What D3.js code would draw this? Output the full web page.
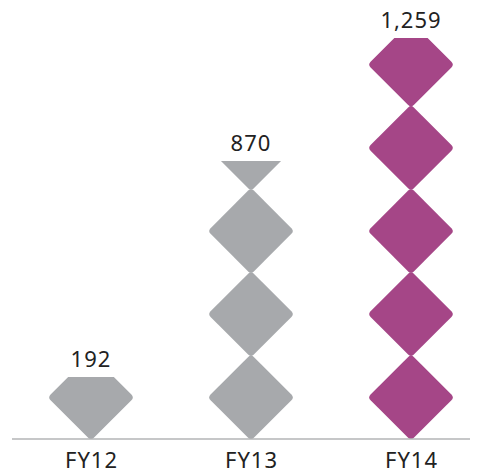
<!DOCTYPE html>
<html>
  <head>
    <meta charset="utf-8">
    <title>FY totals</title>
    <script src="https://cdnjs.cloudflare.com/ajax/libs/d3/7.8.5/d3.min.js" charset="utf-8"></script>
    <style>
      html, body { margin: 0; padding: 0; background: #fff; }
      svg { display: block; }
      text { font-family: "Noto Sans", sans-serif; font-size: 22px; letter-spacing: 1px; fill: #222; }
    </style>
  </head>
  <body>
    <div id="chart"></div>
    <script>

var years = ["FY12", "FY13", "FY14"];
var totals = [192, 870, 1259];
var labels = ["192", "870", "1,259"];
// how many diamonds each column fills
var diamondsFilled = [0.745, 3.34, 4.82];
var colors = ["#a7a9ac", "#a7a9ac", "#a54687"];

var width = 481, height = 475;
var baseline = 439;

var x = d3.scalePoint().domain(years).range([91, 411]);
var y = d3.scaleLinear().domain([0, 5]).range([baseline, 23]);
var diamondH = y(0) - y(1);

var svg = d3.select("#chart").append("svg")
    .attr("width", width)
    .attr("height", height);

var defs = svg.append("defs");

years.forEach(function(yr, i) {
    var col = svg.append("g");
    var clipId = "clip" + i;

    defs.append("clipPath").attr("id", clipId)
        .append("rect")
        .attr("x", x(yr) - 50)
        .attr("width", 100)
        .attr("y", y(diamondsFilled[i]))
        .attr("height", baseline - y(diamondsFilled[i]));

    var side = (diamondH + 3.3) / Math.SQRT2;
    col.append("g")
        .attr("clip-path", "url(#" + clipId + ")")
        .selectAll("rect")
        .data(d3.range(Math.ceil(diamondsFilled[i])))
        .enter().append("rect")
        .attr("x", -side / 2)
        .attr("y", -side / 2)
        .attr("width", side)
        .attr("height", side)
        .attr("rx", 4)
        .attr("fill", colors[i])
        .attr("transform", function(d) {
            return "translate(" + x(yr) + "," + y(d + 0.5) + ") rotate(45)";
        });

    col.append("text")
        .attr("x", x(yr))
        .attr("y", y(diamondsFilled[i]) - 10)
        .attr("text-anchor", "middle")
        .text(labels[i]);
});

// baseline
svg.append("line")
    .attr("x1", 12)
    .attr("x2", 470)
    .attr("y1", baseline)
    .attr("y2", baseline)
    .attr("stroke", "#b3b4b6")
    .attr("stroke-width", 1.5);

var axis = svg.append("g")
    .attr("transform", "translate(0," + baseline + ")")
    .call(d3.axisBottom(x).tickSize(0).tickPadding(13));
axis.select(".domain").remove();
axis.selectAll("text")
    .style("font-family", '"Noto Sans", sans-serif')
    .style("font-size", "22px")
    .attr("fill", "#222");

    </script>
  </body>
</html>
